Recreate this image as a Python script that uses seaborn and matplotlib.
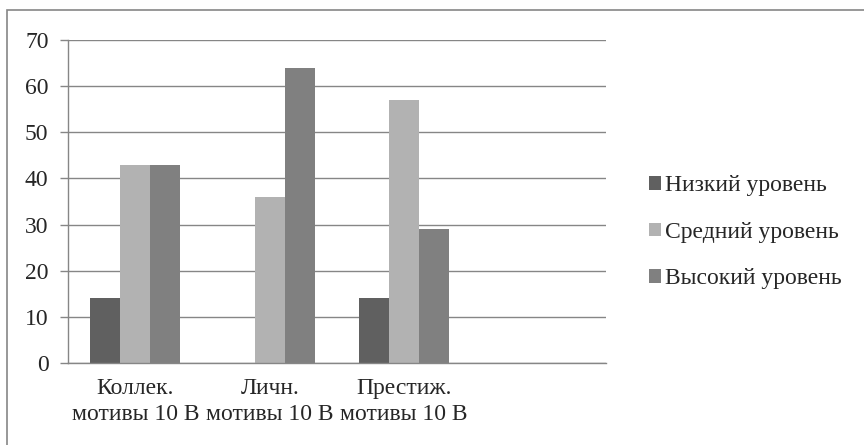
import pandas as pd
import matplotlib
matplotlib.use("Agg")
import matplotlib.pyplot as plt
import seaborn as sns
from matplotlib.patches import Rectangle

# Data
categories = ["Коллек.\nмотивы 10 В", "Личн.\nмотивы 10 В", "Престиж.\nмотивы 10 В", ""]
levels = ["Низкий уровень", "Средний уровень", "Высокий уровень"]
low = [14, 0, 14]
mid = [43, 36, 57]
high = [43, 64, 29]
colors = ["#606060", "#b2b2b2", "#808080"]

rows = []
for i, cat in enumerate(categories[:3]):
    rows.append({"cat": cat, "level": levels[0], "value": low[i]})
    rows.append({"cat": cat, "level": levels[1], "value": mid[i]})
    rows.append({"cat": cat, "level": levels[2], "value": high[i]})
df = pd.DataFrame(rows)

sns.set_style("white")
plt.rcParams["font.family"] = ["Liberation Serif", "DejaVu Serif"]

fig = plt.figure(figsize=(8.64, 4.45), dpi=100)
ax = fig.add_axes([68 / 864, 1 - 363 / 445, (606 - 68) / 864, (363 - 40) / 445])

sns.barplot(
    data=df,
    x="cat",
    y="value",
    hue="level",
    order=categories,
    hue_order=levels,
    palette=colors,
    width=0.67,
    saturation=1,
    linewidth=0,
    ax=ax
)

ax.set_xlim(-0.5, len(categories) - 0.5)
ax.set_ylim(0, 70)
ax.set_yticks(range(0, 71, 10))
ax.yaxis.grid(True, color="#868686", linewidth=1)
ax.set_axisbelow(True)

# Category boundaries as tick marks, labels centered between them
ax.set_xticks([i - 0.5 for i in range(len(categories) + 1)])
ax.set_xticklabels([])
ax.set_xticks(range(len(categories)), minor=True)
ax.set_xticklabels(categories, minor=True, fontsize=17, linespacing=1.28)
ax.tick_params(axis="x", which="major", length=5, color="#868686", width=1, direction="out")
ax.tick_params(axis="x", which="minor", length=0, pad=11)
ax.tick_params(axis="y", length=6, color="#868686", width=1, labelsize=17, pad=8, left=True)
ax.set_xlabel("")
ax.set_ylabel("")

for side in ["top", "right"]:
    ax.spines[side].set_visible(False)
for side in ["left", "bottom"]:
    ax.spines[side].set_color("#868686")
    ax.spines[side].set_linewidth(1)

ax.legend(
    loc="center left",
    bbox_to_anchor=(1.062, 0.405),
    frameon=False,
    fontsize=17,
    handlelength=0.5,
    handleheight=0.5,
    handletextpad=0.2,
    labelspacing=1.08,
    borderaxespad=0
)

# Outer chart border (cut off at right and bottom)
fig.patches.append(Rectangle(
    (6.5 / 864, -0.05), 1.1, 1 - 10 / 445 + 0.05,
    transform=fig.transFigure, fill=False, edgecolor="#868686", linewidth=1.2
))

fig.savefig("out.png", dpi=100)
